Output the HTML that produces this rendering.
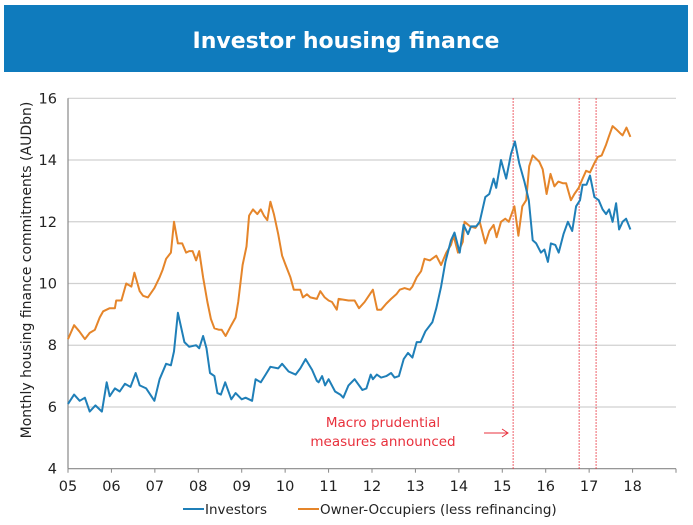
<!DOCTYPE html>
<html><head><meta charset="utf-8"><style>
html,body{margin:0;padding:0;background:#fff;width:693px;height:525px;overflow:hidden}
svg text{font-family:"DejaVu Sans","Liberation Sans",sans-serif}
</style></head><body>
<svg id="chart" width="693" height="525" viewBox="0 0 693 525">
<rect x="4" y="5" width="684" height="67" fill="#0f7bbd"/>
<text x="346" y="48" text-anchor="middle" fill="#fff" font-size="22" font-weight="bold">Investor housing finance</text>
<g id="grid"></g><g id="axes"></g><g id="marks"></g>
<text transform="translate(31,270) rotate(-90)" text-anchor="middle" font-size="14" fill="#222">Monthly housing finance commitments (AUDbn)</text>
<text x="383" y="427" text-anchor="middle" font-size="13.5" fill="#e8303c">Macro prudential</text>
<text x="383" y="446" text-anchor="middle" font-size="13.5" fill="#e8303c">measures announced</text>
<g stroke="#e8303c" fill="none" stroke-width="1">
<line x1="484" y1="433" x2="508" y2="433"/><polyline points="502,429 508,433 502,437"/></g>
<g>
<line x1="183" y1="509" x2="204" y2="509" stroke="#1f7fb8" stroke-width="2"/>
<text x="205" y="514" font-size="13.5" fill="#222">Investors</text>
<line x1="298" y1="509" x2="319" y2="509" stroke="#e5852a" stroke-width="2"/>
<text x="320" y="514" font-size="13.5" fill="#222">Owner-Occupiers (less refinancing)</text>
</g>
</svg>
<script>
const yTicks=[4,6,8,10,12,14,16];
const xTickLabels=["05","06","07","08","09","10","11","12","13","14","15","16","17","18"];
const measureDates=[15.25,16.77,17.16];
const invDates=[5.00,5.14,5.27,5.39,5.50,5.63,5.78,5.89,5.96,6.08,6.19,6.31,6.44,6.56,6.65,6.80,6.99,7.11,7.26,7.37,7.44,7.53,7.68,7.79,7.95,8.02,8.11,8.19,8.27,8.37,8.44,8.52,8.62,8.76,8.86,9.00,9.09,9.24,9.32,9.44,9.55,9.66,9.84,9.93,10.08,10.24,10.35,10.47,10.62,10.73,10.77,10.85,10.92,11.00,11.15,11.27,11.34,11.46,11.60,11.78,11.87,11.97,12.02,12.11,12.21,12.33,12.44,12.52,12.62,12.73,12.83,12.93,13.03,13.12,13.23,13.39,13.48,13.59,13.69,13.82,13.90,14.02,14.11,14.21,14.28,14.40,14.48,14.61,14.70,14.80,14.86,14.97,15.09,15.20,15.29,15.39,15.51,15.61,15.70,15.78,15.89,15.97,16.05,16.12,16.22,16.30,16.41,16.51,16.61,16.70,16.79,16.85,16.94,17.02,17.12,17.22,17.31,17.39,17.46,17.54,17.62,17.69,17.77,17.85,17.95];
const invValues=[6.1,6.4,6.2,6.3,5.85,6.05,5.85,6.8,6.35,6.6,6.5,6.75,6.65,7.1,6.7,6.6,6.2,6.9,7.4,7.35,7.8,9.05,8.1,7.95,8.0,7.9,8.3,7.9,7.1,7.0,6.45,6.4,6.8,6.25,6.45,6.25,6.3,6.2,6.9,6.8,7.05,7.3,7.25,7.4,7.15,7.05,7.25,7.55,7.2,6.85,6.8,7.0,6.7,6.9,6.5,6.4,6.3,6.7,6.9,6.55,6.6,7.05,6.9,7.05,6.95,7.0,7.1,6.95,7.0,7.55,7.75,7.6,8.1,8.1,8.45,8.75,9.2,9.9,10.7,11.4,11.65,11.0,11.9,11.6,11.85,11.85,12.0,12.8,12.9,13.4,13.1,14.0,13.4,14.2,14.6,13.9,13.3,12.7,11.4,11.3,11.0,11.1,10.7,11.3,11.25,11.0,11.6,12.0,11.7,12.5,12.7,13.2,13.2,13.5,12.8,12.7,12.4,12.25,12.4,12.0,12.6,11.75,12.0,12.1,11.75];
const ownDates=[5.00,5.14,5.26,5.39,5.50,5.62,5.73,5.81,5.96,6.08,6.11,6.23,6.34,6.46,6.53,6.65,6.73,6.84,6.99,7.11,7.18,7.26,7.37,7.44,7.53,7.63,7.72,7.79,7.87,7.95,8.02,8.11,8.21,8.29,8.37,8.48,8.54,8.63,8.76,8.86,8.92,9.02,9.11,9.17,9.26,9.36,9.44,9.51,9.59,9.66,9.74,9.84,9.93,10.01,10.12,10.20,10.27,10.35,10.41,10.50,10.58,10.73,10.81,10.91,11.00,11.08,11.19,11.23,11.46,11.60,11.70,11.83,11.95,12.02,12.12,12.21,12.33,12.44,12.56,12.64,12.75,12.87,12.93,13.03,13.13,13.21,13.33,13.48,13.59,13.71,13.82,13.88,13.98,14.09,14.13,14.26,14.38,14.48,14.61,14.70,14.80,14.87,14.97,15.07,15.15,15.28,15.37,15.46,15.55,15.62,15.70,15.85,15.93,16.02,16.11,16.20,16.29,16.39,16.47,16.58,16.66,16.76,16.85,16.93,17.02,17.12,17.20,17.29,17.39,17.45,17.54,17.62,17.73,17.77,17.86,17.95];
const ownValues=[8.2,8.65,8.45,8.2,8.4,8.5,8.9,9.1,9.2,9.2,9.45,9.45,10.0,9.9,10.35,9.75,9.6,9.55,9.85,10.2,10.45,10.8,11.0,12.0,11.3,11.3,11.0,11.05,11.05,10.75,11.05,10.2,9.4,8.85,8.55,8.5,8.5,8.3,8.65,8.9,9.4,10.6,11.2,12.2,12.4,12.25,12.4,12.2,12.05,12.65,12.25,11.6,10.9,10.6,10.2,9.8,9.8,9.8,9.55,9.65,9.55,9.5,9.75,9.55,9.45,9.4,9.15,9.5,9.45,9.45,9.2,9.4,9.65,9.8,9.15,9.15,9.35,9.5,9.65,9.8,9.85,9.8,9.9,10.2,10.4,10.8,10.75,10.9,10.6,11.0,11.25,11.55,11.0,11.35,12.0,11.85,11.8,12.0,11.3,11.7,11.9,11.5,12.0,12.1,12.0,12.5,11.55,12.5,12.7,13.8,14.15,13.95,13.7,12.9,13.55,13.15,13.3,13.25,13.25,12.7,12.9,13.1,13.4,13.65,13.6,13.9,14.1,14.15,14.5,14.75,15.1,15.0,14.85,14.8,15.05,14.75];

const X0=68,X1=676,Y0=468.7,Y1=98.3;
const xs=y=>X0+(y-5)*(X1-X0)/14;
const ys=v=>Y0-(v-4)*(Y0-Y1)/12;
const NS="http://www.w3.org/2000/svg";
function mk(tag,attrs,parent){const e=document.createElementNS(NS,tag);for(const k in attrs)e.setAttribute(k,attrs[k]);document.getElementById(parent).appendChild(e);return e;}

yTicks.forEach(t=>{
  if(t>4){const g=mk('line',{x1:X0,x2:X1,y1:ys(t),y2:ys(t),stroke:'#d0d0d0','stroke-width':1.2},'grid');
  
  }
  const l=mk('text',{x:57,y:ys(t)+5,'text-anchor':'end','font-size':14.5,fill:'#222'},'axes');l.textContent=t;
  
  
});
const ya=mk('line',{x1:X0,x2:X0,y1:Y1,y2:Y0,stroke:'#888','stroke-width':1.2},'axes');


const xa=mk('line',{x1:X0,x2:X1,y1:Y0,y2:Y0,stroke:'#888','stroke-width':1.2},'axes');


for(let i=0;i<=14;i++){const tk=mk('line',{x1:xs(5+i),x2:xs(5+i),y1:Y0,y2:Y0+4,stroke:'#888'},'axes');
  
  }
xTickLabels.forEach((s,i)=>{const l=mk('text',{x:xs(5+i),y:491,'text-anchor':'middle','font-size':14.5,fill:'#222'},'axes');l.textContent=s;
  
  });
measureDates.forEach(d=>{const l=mk('line',{x1:xs(d),x2:xs(d),y1:Y1,y2:Y0,stroke:'#e8303c','stroke-width':1,'stroke-dasharray':'1.5,1.5'},'marks');
  
  });
function series(d,v,c,name){const p=mk('polyline',{points:d.map((t,i)=>xs(t).toFixed(1)+','+ys(v[i]).toFixed(1)).join(' '),fill:'none',stroke:c,'stroke-width':2,'stroke-linejoin':'round'},'marks');
  
  }
series(ownDates,ownValues,'#e5852a','owner-occupiers-line');
series(invDates,invValues,'#1f7fb8','investors-line');
</script>
</body></html>
